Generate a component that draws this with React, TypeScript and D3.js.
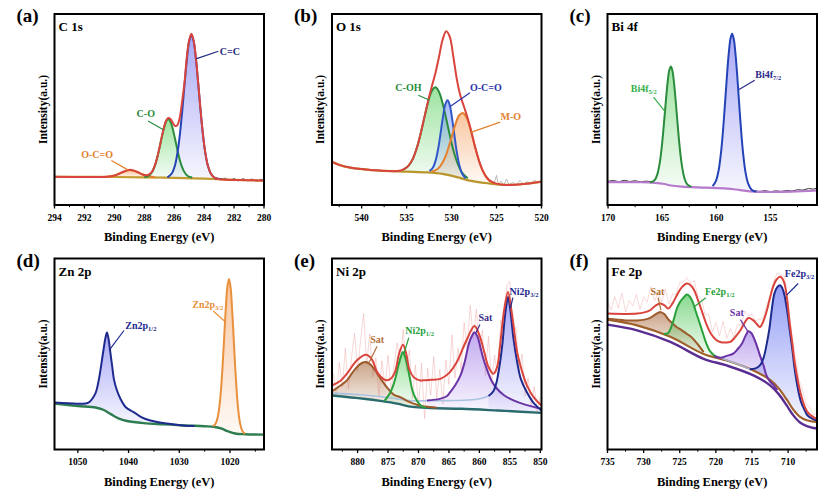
import * as d3 from 'd3'

type Pt = [number, number]

// ---------- (a) C 1s ----------
const aTicks = [294, 292, 290, 288, 286, 284, 282, 280]
const aBackground: Pt[] = [[294, 14.8], [291, 14.7], [288, 14.5], [286, 14.2], [284, 13.8], [282, 13.2], [280, 12.7]]
const aCC: Pt[] = [[286.45, 14.5], [286.15, 16.6], [285.95, 20.7], [285.75, 28.9], [285.6, 38.4], [285.45, 50.5], [285.3, 64], [285.15, 76.6], [285.0, 85.7], [284.85, 89], [284.7, 85.7], [284.55, 76.6], [284.4, 64], [284.25, 50.5], [284.1, 38.4], [283.95, 28.7], [283.75, 20.5], [283.55, 16.4], [283.25, 14], [282.8, 13.6]]
const aCO: Pt[] = [[288.0, 14.5], [287.7, 15.3], [287.5, 17], [287.3, 20.4], [287.15, 24.3], [287.0, 29.3], [286.85, 34.8], [286.7, 39.9], [286.55, 43.6], [286.4, 45], [286.25, 43.6], [286.1, 39.9], [285.95, 34.8], [285.8, 29.3], [285.65, 24.3], [285.5, 20.4], [285.3, 17], [285.1, 15.2], [284.8, 14.4]]
const aOCO: Pt[] = [[290.6, 14.7], [290.1, 15.3], [289.6, 16.7], [289.2, 17.9], [288.95, 18.3], [288.7, 17.9], [288.3, 16.7], [287.8, 15.3], [287.3, 14.5]]
const aEnvelope: Pt[] = [[294, 14.8], [291, 14.7], [290.3, 14.9], [289.8, 15.9], [289.4, 17.4], [288.95, 18.4], [288.5, 17.4], [288.1, 15.8], [287.8, 15.6], [287.5, 17.2], [287.3, 20.6], [287.15, 24.5], [287.0, 29.5], [286.85, 35], [286.7, 40.2], [286.55, 44], [286.4, 45.6], [286.25, 45], [286.1, 43.1], [285.95, 41.4], [285.8, 41.6], [285.65, 45], [285.5, 52.5], [285.3, 65], [285.15, 78], [285.0, 86.3], [284.85, 89.6], [284.7, 86], [284.55, 76.8], [284.4, 64.2], [284.25, 50.6], [284.1, 38.4], [283.95, 28.7], [283.75, 20.5], [283.55, 16.4], [283.25, 14], [282.8, 13.4], [281, 13], [280, 12.7]]
const aRaw: Pt[] = [[283.2, 14.3], [282.9, 13.2], [282.6, 14.1], [282.3, 12.8], [282, 13.9], [281.7, 12.6], [281.4, 13.8], [281.1, 12.9], [280.8, 13.6], [280.5, 12.4], [280.2, 13.5], [280, 12.9]]

// ---------- (b) O 1s ----------
const bTicks = [540, 535, 530, 525, 520]
const bBackground: Pt[] = [[543.3, 22.6], [542.5, 21], [541.3, 19.6], [540, 18.8], [538, 18], [535, 17.5], [532.7, 17.1], [531, 16.3], [529.4, 14.6], [528, 12.8], [526, 11.4], [524, 10.5], [522, 11], [520, 12.2]]
const bCOH: Pt[] = [[535.4, 18.5], [534.8, 20.5], [534.3, 24.3], [533.8, 30.9], [533.4, 38.2], [533.0, 46.4], [532.6, 54.1], [532.2, 59.7], [531.8, 61.6], [531.4, 59.2], [531.0, 53.3], [530.6, 45.2], [530.2, 36.5], [529.8, 28.7], [529.3, 21.4], [528.8, 16.7], [528.2, 14]]
const bOCO: Pt[] = [[532.45, 17.8], [532.05, 19.8], [531.75, 23.7], [531.45, 30.6], [531.2, 38.4], [530.95, 46.4], [530.7, 52.6], [530.45, 54.8], [530.2, 52.2], [529.95, 45.5], [529.7, 37], [529.45, 28.6], [529.15, 21.1], [528.85, 16.6], [528.45, 13.9]]
const bMO: Pt[] = [[532.25, 17.6], [531.75, 18.3], [531.25, 20.4], [530.75, 24.6], [530.35, 30], [529.95, 36.3], [529.55, 42.6], [529.15, 47], [528.75, 48.2], [528.35, 45.9], [527.95, 40.5], [527.55, 33.3], [527.15, 26.3], [526.75, 20.3], [526.25, 15.4], [525.75, 12.6], [525.25, 11.4]]
const bEnvelope: Pt[] = [[543.3, 22.6], [542.5, 21], [541.3, 19.6], [540, 18.8], [538, 18], [536, 17.8], [535.4, 18.5], [534.8, 20.5], [534.3, 24.3], [533.8, 30.9], [533.4, 38.2], [533, 46.4], [532.6, 54.7], [532.2, 62], [531.8, 69], [531.4, 77.5], [531, 86.5], [530.6, 91], [530.2, 88], [529.8, 77.5], [529.4, 65.4], [529, 56.9], [528.6, 51.2], [528.2, 45.3], [527.8, 38.4], [527.4, 30.6], [527, 23.9], [526.5, 17.6], [526, 13.9], [525.5, 12.1], [525, 11.2], [524, 10.5], [522, 11], [520, 12.2]]
const bRaw: Pt[] = [[526, 11.6], [525.6, 12.8], [525.3, 10.9], [525, 15.5], [524.8, 10.6], [524.5, 12.5], [524.2, 10.2], [523.9, 13.6], [523.6, 10.5], [523.2, 11.8], [522.8, 10.3], [522.4, 12.9], [522, 10.8], [521.6, 12.2], [521.2, 11.3], [520.8, 13.1], [520.4, 11.6], [520, 12.6]]

// ---------- (c) Bi 4f ----------
const cTicks = [170, 165, 160, 155]
const cBackground: Pt[] = [[170.1, 12], [167, 11.9], [165.7, 11.6], [164.8, 11], [164.2, 10.2], [163.2, 9.6], [161, 9.1], [159, 8.6], [157.8, 7.8], [156.5, 7], [155, 6.8], [153, 7], [150.7, 7.6]]
const cF52: Pt[] = [[166.1, 11.7], [165.7, 13], [165.45, 16], [165.2, 23], [165.0, 32.5], [164.8, 45.1], [164.65, 55.2], [164.5, 64.1], [164.35, 70.4], [164.2, 72.5], [164.05, 70.2], [163.9, 63.6], [163.75, 54.4], [163.6, 44.1], [163.4, 31.3], [163.2, 21.5], [162.95, 14.2], [162.7, 10.9], [162.3, 9.45]]
const cF72: Pt[] = [[160.34, 9.9], [160.04, 12.5], [159.79, 18], [159.54, 28.9], [159.34, 42], [159.14, 57.8], [158.99, 69.8], [158.84, 80], [158.69, 87.1], [158.54, 89.6], [158.39, 87], [158.24, 79.8], [158.09, 69.5], [157.94, 57.3], [157.74, 41.2], [157.54, 27.9], [157.29, 16.7], [157.04, 10.9], [156.74, 8], [156.3, 6.9]]
const cRawLeft: Pt[] = [[170.05, 12.4], [169.5, 12.8], [169, 12.2], [168.5, 12.9], [168, 12.3], [167.5, 12.7], [167, 12.1], [166.5, 12.5], [166, 12.2]]
const cRawRight: Pt[] = [[156.5, 7.4], [156, 7.1], [155.5, 7.5], [155, 7], [154.5, 7.4], [154, 7.1], [153.5, 7.6], [153, 7.3], [152.5, 8], [152, 7.8], [151.5, 8.6], [151, 8.3], [150.7, 8.9]]

// ---------- (d) Zn 2p ----------
const dTicks = [1050, 1040, 1030, 1020]
const dBackground: Pt[] = [[1054.6, 24], [1050, 22.8], [1046.5, 22], [1045, 20.8], [1043.5, 18.5], [1042, 16.3], [1040.3, 14.9], [1037, 13.8], [1033, 13.2], [1029, 12.6], [1025, 12.2], [1023, 11.8], [1021.5, 10.8], [1020.5, 9.6], [1019, 8.4], [1017, 8], [1013.3, 7.8]]
const dP12: Pt[] = [[1054.6, 24.6], [1050, 24], [1048, 24.4], [1046.6, 29], [1045.9, 36], [1045.4, 44], [1044.9, 53], [1044.55, 58.5], [1044.26, 61.2], [1043.95, 58], [1043.6, 51], [1043.2, 43], [1042.9, 37], [1042.3, 31], [1041.6, 26.6], [1040.5, 22], [1039, 19.6], [1037.5, 17], [1035.7, 15.2], [1032.4, 13.6], [1029.8, 12.7], [1027, 12.3]]
const dP32: Pt[] = [[1023.4, 12.2], [1022.9, 13.3], [1022.4, 17.2], [1022.0, 24.8], [1021.7, 34], [1021.4, 46.6], [1021.1, 61.3], [1020.8, 75.4], [1020.5, 85.6], [1020.2, 89.3], [1019.9, 85.1], [1019.6, 74.2], [1019.3, 59.4], [1019.0, 44.1], [1018.7, 31.1], [1018.4, 21.3], [1018.0, 13.5], [1017.5, 9.4], [1017.0, 8.2]]

// ---------- (e) Ni 2p ----------
const eTicks = [880, 875, 870, 865, 860, 855, 850]
const eBackground: Pt[] = [[884.2, 28.3], [879, 26.6], [876, 25.3], [873.5, 24], [871, 22.3], [868, 21.7], [863, 21.3], [857, 20.4], [849.8, 19.2]]
const eTail: Pt[] = [[884.2, 29.5], [879, 28.5], [875, 27.2], [871, 25.5], [868.6, 25.5], [865, 25.6], [862, 25.9], [859.9, 26.6], [858.5, 28]]
const eSatHigh: Pt[] = [[884.2, 30.5], [882.8, 33.5], [881.75, 36.2], [880.9, 40], [880.1, 43.2], [879.3, 45.3], [878.6, 45.8], [877.9, 44.5], [877.1, 41.4], [876.2, 37], [875.2, 32.7], [874, 28.6], [873, 27.4], [871.8, 25.3], [870.8, 24], [869.5, 22.8], [868.1, 22.2], [867, 21.8]]
const eP12: Pt[] = [[875.6, 25.4], [875.2, 27], [874.6, 30], [874.1, 34], [873.7, 38.5], [873.3, 44], [872.9, 48.5], [872.55, 51], [872.2, 48.5], [871.8, 43.5], [871.4, 37], [871.0, 31], [870.5, 27], [869.9, 24], [869.4, 22.5], [868.8, 22]]
const eSatLow: Pt[] = [[868.6, 25.7], [866.5, 26.5], [865.3, 28], [864.8, 30], [864, 33.5], [863.1, 38.8], [862.4, 46], [861.8, 54.5], [861.3, 59], [860.8, 61.2], [860.3, 59], [859.9, 54.5], [859.4, 48], [858.8, 42.3], [858, 36], [857.1, 31.8], [856, 28.5], [854.4, 25.7], [852.5, 23.5], [849.8, 21.3]]
const eP32: Pt[] = [[858.5, 28], [857.7, 30.5], [857.2, 35], [856.6, 45.8], [856.2, 56], [855.9, 66.8], [855.6, 75], [855.3, 79.9], [855, 75], [854.7, 66.8], [854.4, 58], [853.8, 45.8], [853.2, 37], [852.2, 30], [851, 24], [849.8, 20.4]]
const eEnvelope: Pt[] = [[884.2, 33.6], [882.8, 36], [881.75, 39.7], [880.1, 46.7], [878.6, 49.6], [877.6, 47], [876.8, 40.5], [875.8, 37], [875.2, 36.2], [874.4, 37.5], [873.8, 41], [873.2, 50], [872.55, 54.9], [872, 50], [871.5, 42], [870.8, 37.9], [869.8, 36.2], [869.2, 36.2], [868, 36.5], [866.4, 37], [865, 40], [863.7, 45.8], [862.7, 53], [862, 58], [860.8, 64.7], [859.9, 59], [859.2, 51], [858.5, 43.2], [857.7, 39.7], [857.1, 43], [856.6, 54.5], [855.9, 73.8], [855.3, 82.5], [854.7, 72], [854.2, 60], [853.8, 51], [853, 41], [852.2, 33.6], [851, 27], [849.8, 23.1]]
const eRaw: Pt[] = [[884, 40], [883.5, 28], [883, 45.5], [882.5, 33], [882, 53], [881.5, 31.8], [881, 48], [880.5, 61], [880, 41], [879.5, 57.3], [879, 71.2], [878.5, 44.6], [878, 60.5], [877.5, 38], [877, 48], [876.5, 28], [876, 46.5], [875.5, 32.5], [875, 49.3], [874.5, 30.3], [874, 44.5], [873.5, 56], [873, 45.5], [872.5, 62.8], [872, 41], [871.5, 52], [871, 26.5], [870.5, 44.3], [870, 21.5], [869.5, 45.2], [869, 16.2], [868.5, 42.4], [868, 28.5], [867.5, 48.6], [867, 26.8], [866.5, 42], [866, 23.8], [865.5, 47], [865, 34], [864.5, 60], [864, 37.5], [863.5, 53], [863, 41.5], [862.5, 66.5], [862, 53], [861.5, 75.5], [861, 58], [860.5, 73.5], [860, 52], [859.5, 62.5], [859, 38.5], [858.5, 59.2], [858, 34.5], [857.5, 49.5], [857, 38], [856.5, 68], [856, 63], [855.5, 86], [855, 88], [854.5, 59], [854, 64], [853.5, 41.5], [853, 50], [852.5, 28], [852, 37.5], [851.5, 23], [851, 33], [850.5, 20], [850, 27.5]]

// ---------- (f) Fe 2p ----------
const fTicks = [735, 730, 725, 720, 715, 710]
const fBackgroundLow: Pt[] = [[735, 65.4], [730.9, 62.4], [726.3, 56.3], [721.7, 47.5], [718.5, 44], [714.8, 38.8], [712.5, 33.6], [711.3, 29], [710.2, 23.1], [709.3, 18], [708.4, 14.3], [707.4, 12.3], [706, 11]]
const fBackgroundHigh: Pt[] = [[735, 68], [730.9, 65], [726.3, 59], [721.7, 50], [718.5, 46.6], [714.8, 41.4], [712.5, 36.4], [711.3, 32], [710.2, 26.2], [709.3, 21], [708.4, 17.2], [707.4, 15.3], [706, 14.4]]
const fTail: Pt[] = [[720.7, 50.2], [719, 47.5], [717.1, 44.9], [715.3, 42]]
const fSatHigh: Pt[] = [[735, 68.4], [732.5, 67.6], [730.9, 67.6], [729.9, 68], [729.1, 68.9], [728.4, 70.6], [727.7, 72], [727.1, 70.8], [726.6, 68.2], [726, 66], [725.4, 64], [724.7, 62.4], [724, 60.5], [723.4, 58.9], [722.6, 55.5], [721.7, 51]]
const fP12: Pt[] = [[727.2, 60.5], [726.6, 61], [726, 66], [725.4, 73.8], [725, 77], [724.6, 79], [724, 81.1], [723.6, 80], [723.2, 77.2], [722.8, 72.5], [722.3, 66.8], [721.8, 61], [721.4, 56.3], [720.9, 52], [720.5, 50.2], [720, 48.5]]
const fSatLow: Pt[] = [[720.2, 48.8], [719.4, 48], [718.5, 49], [717.6, 50.2], [717, 52.5], [716.4, 55.4], [715.9, 59.5], [715.5, 61.9], [715.1, 61], [714.8, 58.9], [714.3, 54], [713.9, 49.3], [713.4, 44], [713, 38.8], [712.5, 35.5], [712, 33.6], [711.5, 31]]
const fP32: Pt[] = [[715.3, 42], [714.5, 42.5], [713.9, 44], [713.4, 48], [713, 54.5], [712.6, 63], [712.3, 72], [711.9, 81.6], [711.5, 85], [711.1, 86], [710.8, 84.5], [710.5, 80.8], [710.1, 72], [709.8, 63.3], [709.4, 52], [709.1, 42.3], [708.6, 31], [708.2, 24.8], [707.7, 20.5], [707.3, 17.8], [706.6, 16], [706, 15.2]]
const fEnvelope: Pt[] = [[735, 71.2], [732.5, 71], [730.9, 71.2], [729.9, 71.8], [729.1, 72.9], [728.3, 75.5], [727.7, 76.4], [727.1, 75.5], [726.6, 73.8], [726, 76.5], [725.4, 80.8], [724.7, 85], [724, 86.9], [723.5, 86], [723, 83.4], [722.5, 78.5], [721.9, 72], [721.3, 65.5], [720.7, 60.7], [720, 57.5], [719.4, 56.3], [718.7, 56], [718, 56.3], [717.3, 59], [716.6, 62.4], [716, 66.5], [715.5, 68.9], [714.8, 67.6], [714.4, 66], [713.9, 64.1], [713.5, 66.5], [713, 72], [712.5, 79.5], [712, 86], [711.6, 89], [711.1, 90.4], [710.8, 89.5], [710.5, 86.9], [710.1, 77.5], [709.8, 66.8], [709.4, 55], [709.1, 45.8], [708.6, 35], [708.2, 28.3], [707.7, 22.5], [707.3, 19.6], [706.6, 17.2], [706, 16.1]]
const fRaw: Pt[] = [[735, 77.2], [734.5, 73.1], [734, 80.1], [733.5, 74], [733, 82], [732.5, 72], [732, 78], [731.5, 75.1], [731, 81.2], [730.5, 73.4], [730, 79.8], [729.5, 77.3], [729, 85.2], [728.5, 77.8], [728, 82], [727.5, 77.2], [727, 84.2], [726.5, 76], [726, 81.5], [725.5, 81.2], [725, 87.5], [724.5, 87.8], [724, 89.9], [723.5, 87], [723, 88.4], [722.5, 80.5], [722, 79], [721.5, 70.5], [721, 71], [720.5, 61.5], [720, 66.5], [719.5, 59.4], [719, 67.1], [718.5, 58.1], [718, 63.3], [717.5, 59], [717, 65.5], [716.5, 65], [716, 72.5], [715.5, 69.9], [715, 71], [714.5, 67.4], [714, 68.3], [713.5, 68.5], [713, 75], [712.5, 80.5], [712, 88], [711.5, 92.5], [711, 91.2], [710.5, 90.9], [710, 76], [709.5, 61], [709, 49], [708.5, 36.5], [708, 31], [707.5, 23.5], [707, 22.5], [706.5, 18], [706, 19.1]]

// ---------- styling ----------
const FONT = "'Times New Roman', 'Liberation Serif', 'DejaVu Serif', serif"
const COLS = [54.5, 332, 607.5]
const ROWS = [14, 258.5]
const W = 209.5
const H = 191

const RED = '#d9443c'
const NAVY = '#1e2a8e'
const BLUE = '#2443b6'
const GREEN = '#2a8c3c'
const LIGHTGREEN = '#36b04a'
const ORANGE = '#e3812e'
const GOLD = '#c49b30'
const BROWN = '#9c5b2c'
const PURPLE = '#6a33a6'

interface Comp { pts: Pt[]; stroke: string; fill?: string; width?: number; opacity?: number }
interface Note { text: string; sub?: string; color: string; at: Pt; anchor: 'start' | 'middle' | 'end'; from: Pt; to: Pt }
interface Spec {
  key: string; letter: string; title: string; col: number; row: number
  domain: [number, number]; ticks: number[]; minorStep: number
  base: Pt[]; backs: Comp[]; raws: Comp[]; comps: Comp[]; envelope?: Comp; notes: Note[]
}

const panels: Spec[] = [
  {
    key: 'a', letter: '(a)', title: 'C 1s', col: 0, row: 0, domain: [294, 280], ticks: aTicks, minorStep: 1,
    base: aBackground,
    backs: [{ pts: aBackground, stroke: GOLD, width: 2.2 }],
    raws: [{ pts: aRaw, stroke: '#444', width: 0.9 }],
    comps: [
      { pts: aOCO, stroke: ORANGE, fill: '#f59a50' },
      { pts: aCO, stroke: GREEN, fill: '#5cd060' },
      { pts: aCC, stroke: BLUE, fill: '#6f6ff0' },
    ],
    envelope: { pts: aEnvelope, stroke: RED, width: 2 },
    notes: [
      { text: 'C=C', color: '#232a80', at: [282.95, 78.4], anchor: 'start', from: [283.05, 80.5], to: [284.55, 76.5] },
      { text: 'C-O', color: GREEN, at: [287.9, 46], anchor: 'middle', from: [287.75, 44], to: [286.75, 39.5] },
      { text: 'O-C=O', color: ORANGE, at: [291.15, 24.7], anchor: 'middle', from: [290.2, 23.3], to: [289.1, 18.4] },
    ],
  },
  {
    key: 'b', letter: '(b)', title: 'O 1s', col: 1, row: 0, domain: [543.3, 520], ticks: bTicks, minorStep: 2.5,
    base: bBackground,
    backs: [{ pts: bBackground, stroke: '#b8962c', width: 2.2 }],
    raws: [{ pts: bRaw, stroke: '#aaa', width: 0.8 }],
    comps: [
      { pts: bCOH, stroke: GREEN, fill: '#5cd060' },
      { pts: bOCO, stroke: '#3158c8', fill: '#7090f0' },
      { pts: bMO, stroke: ORANGE, fill: '#f5a060' },
    ],
    envelope: { pts: bEnvelope, stroke: RED, width: 2 },
    notes: [
      { text: 'C-OH', color: GREEN, at: [534.8, 59.7], anchor: 'middle', from: [533.7, 57.5], to: [532.5, 55] },
      { text: 'O-C=O', color: '#2a36a8', at: [527.95, 59.7], anchor: 'start', from: [527.95, 58.8], to: [530.2, 51.5] },
      { text: 'M-O', color: ORANGE, at: [524.55, 44.5], anchor: 'start', from: [524.6, 43.4], to: [527.85, 38] },
    ],
  },
  {
    key: 'c', letter: '(c)', title: 'Bi 4f', col: 2, row: 0, domain: [170.05, 150.7], ticks: cTicks, minorStep: 2.5,
    base: cBackground,
    backs: [{ pts: cBackground, stroke: '#b67bcc', width: 2.2 }],
    raws: [{ pts: cRawLeft, stroke: '#333', width: 1 }, { pts: cRawRight, stroke: '#333', width: 1 }],
    comps: [
      { pts: cF52, stroke: GREEN, fill: '#5cd060' },
      { pts: cF72, stroke: BLUE, fill: '#6f6ff0' },
    ],
    notes: [
      { text: 'Bi4f', sub: '5/2', color: LIGHTGREEN, at: [167.9, 59.3], anchor: 'start', from: [165.8, 56.5], to: [164.75, 49] },
      { text: 'Bi4f', sub: '7/2', color: '#2a2a8a', at: [156.4, 66.6], anchor: 'start', from: [156.45, 65.3], to: [157.9, 60.5] },
    ],
  },
  {
    key: 'd', letter: '(d)', title: 'Zn 2p', col: 0, row: 1, domain: [1054.6, 1013.3], ticks: dTicks, minorStep: 5,
    base: dBackground,
    backs: [{ pts: dBackground, stroke: '#2e7d50', width: 2.4 }],
    raws: [],
    comps: [
      { pts: dP12, stroke: NAVY, fill: '#6f6ff0' },
      { pts: dP32, stroke: '#e8903c', fill: '#f5a060' },
    ],
    notes: [
      { text: 'Zn2p', sub: '1/2', color: NAVY, at: [1040.64, 63.3], anchor: 'start', from: [1040.9, 62.3], to: [1043.8, 52] },
      { text: 'Zn2p', sub: '3/2', color: '#e8903c', at: [1027.45, 74.1], anchor: 'start', from: [1023.3, 72.5], to: [1021.0, 67] },
    ],
  },
  {
    key: 'e', letter: '(e)', title: 'Ni 2p', col: 1, row: 1, domain: [884.2, 849.8], ticks: eTicks, minorStep: 2.5,
    base: eBackground,
    backs: [{ pts: eTail, stroke: '#a9c2e0', width: 1.6 }, { pts: eBackground, stroke: '#2a6b6e', width: 2.4 }],
    raws: [{ pts: eRaw, stroke: '#f0a0a0', width: 0.8, opacity: 0.55 }],
    comps: [
      { pts: eSatHigh, stroke: BROWN, fill: '#a8683a' },
      { pts: eP12, stroke: '#2aa03a', fill: '#5cd060' },
      { pts: eSatLow, stroke: PURPLE, fill: '#9a72e6' },
      { pts: eP32, stroke: NAVY, fill: '#6f6ff0' },
    ],
    envelope: { pts: eEnvelope, stroke: RED, width: 2 },
    notes: [
      { text: 'Sat', color: '#b0703a', at: [876.77, 56], anchor: 'middle', from: [876.8, 54], to: [878.1, 45.5] },
      { text: 'Ni2p', sub: '1/2', color: '#2aa03a', at: [872.17, 60.7], anchor: 'start', from: [871.6, 58.5], to: [872.35, 50.5] },
      { text: 'Sat', color: '#3a2a8a', at: [859, 67.1], anchor: 'middle', from: [859.9, 65.5], to: [860.6, 61] },
      { text: 'Ni2p', sub: '3/2', color: NAVY, at: [855.04, 81.1], anchor: 'start', from: [854.5, 79.5], to: [854.9, 74] },
    ],
  },
  {
    key: 'f', letter: '(f)', title: 'Fe 2p', col: 2, row: 1, domain: [735, 706], ticks: fTicks, minorStep: 2.5,
    base: fBackgroundHigh,
    backs: [
      { pts: fBackgroundLow, stroke: '#5a2d92', width: 2.4 },
      { pts: fBackgroundHigh, stroke: '#a0602c', width: 2.2 },
      { pts: fTail, stroke: '#a9b4d0', width: 1.6 },
    ],
    raws: [{ pts: fRaw, stroke: '#f0a0a0', width: 0.8, opacity: 0.5 }],
    comps: [
      { pts: fSatHigh, stroke: BROWN, fill: '#a8683a' },
      { pts: fP12, stroke: '#2aa03a', fill: '#3cc048' },
      { pts: fSatLow, stroke: PURPLE, fill: '#9a72e6' },
      { pts: fP32, stroke: NAVY, fill: '#4f5ff0' },
    ],
    envelope: { pts: fEnvelope, stroke: RED, width: 2 },
    notes: [
      { text: 'Sat', color: '#b07030', at: [728.1, 81.1], anchor: 'middle', from: [728, 79.5], to: [727.6, 73] },
      { text: 'Fe2p', sub: '1/2', color: '#2aa03a', at: [721.5, 81.1], anchor: 'start', from: [721.4, 79.5], to: [722.9, 75] },
      { text: 'Sat', color: PURPLE, at: [717.1, 69.7], anchor: 'middle', from: [716.6, 68], to: [715.6, 62] },
      { text: 'Fe2p', sub: '3/2', color: NAVY, at: [710.45, 90.4], anchor: 'start', from: [708.6, 86.9], to: [710.2, 80.8] },
    ],
  },
]

function interp(pts: Pt[], x: number) {
  const s = [...pts].sort((a, b) => a[0] - b[0])
  if (x <= s[0][0]) return s[0][1]
  if (x >= s[s.length - 1][0]) return s[s.length - 1][1]
  for (let i = 1; i < s.length; i++) {
    if (x <= s[i][0]) {
      const t = (x - s[i - 1][0]) / (s[i][0] - s[i - 1][0])
      return s[i - 1][1] + t * (s[i][1] - s[i - 1][1])
    }
  }
  return s[s.length - 1][1]
}

function Panel({ p }: { p: Spec }) {
  const left = COLS[p.col]
  const top = ROWS[p.row]
  const bottom = top + H
  const x = d3.scaleLinear().domain(p.domain).range([left, left + W])
  const y = d3.scaleLinear().domain([0, 100]).range([bottom, top])
  const smooth = d3.curveCatmullRom.alpha(0.5)
  const line = d3.line<Pt>().x(d => x(d[0])).y(d => y(d[1])).curve(smooth)
  const rawLine = d3.line<Pt>().x(d => x(d[0])).y(d => y(d[1]))
  const area = d3.area<Pt>()
    .x(d => x(d[0]))
    .y1(d => y(d[1]))
    .y0(d => y(Math.min(d[1], interp(p.base, d[0]))))
    .curve(smooth)

  const lo = Math.min(...p.domain)
  const hi = Math.max(...p.domain)
  const minor = d3.range(Math.ceil(lo / p.minorStep) * p.minorStep, hi + 1e-6, p.minorStep)
    .filter(v => !p.ticks.some(t => Math.abs(t - v) < 1e-6))
  const clip = `clip-${p.key}`

  return (
    <g>
      <defs>
        <clipPath id={clip}>
          <rect x={left} y={top} width={W} height={H} />
        </clipPath>
        {p.comps.map((c, i) => (
          <linearGradient key={i} id={`g-${p.key}-${i}`} x1="0" y1="0" x2="0" y2="1">
            <stop offset="0%" stopColor={c.fill} stopOpacity={0.6} />
            <stop offset="100%" stopColor={c.fill} stopOpacity={0.06} />
          </linearGradient>
        ))}
      </defs>

      <g clipPath={`url(#${clip})`}>
        {p.raws.map((r, i) => (
          <path key={i} d={rawLine(r.pts) ?? ''} fill="none" stroke={r.stroke} strokeWidth={r.width} strokeOpacity={r.opacity ?? 1} />
        ))}
        {p.comps.map((c, i) => (
          <path key={i} d={area(c.pts) ?? ''} fill={`url(#g-${p.key}-${i})`} stroke="none" />
        ))}
        {p.backs.map((b, i) => (
          <path key={i} d={line(b.pts) ?? ''} fill="none" stroke={b.stroke} strokeWidth={b.width} />
        ))}
        {p.comps.map((c, i) => (
          <path key={i} d={line(c.pts) ?? ''} fill="none" stroke={c.stroke} strokeWidth={c.width ?? 2} strokeLinejoin="round" />
        ))}
        {p.envelope && (
          <path d={line(p.envelope.pts) ?? ''} fill="none" stroke={p.envelope.stroke} strokeWidth={p.envelope.width} strokeLinejoin="round" />
        )}
      </g>

      {p.notes.map((n, i) => (
        <g key={i}>
          <line x1={x(n.from[0])} y1={y(n.from[1])} x2={x(n.to[0])} y2={y(n.to[1])} stroke={n.color} strokeWidth={1.2} />
          <text x={x(n.at[0])} y={y(n.at[1])} textAnchor={n.anchor} fill={n.color} fontSize={10} fontWeight="bold">
            {n.text}
            {n.sub && <tspan dy={2.5} fontSize={6.5}>{n.sub}</tspan>}
          </text>
        </g>
      ))}

      <rect x={left} y={top} width={W} height={H} fill="none" stroke="#000" strokeWidth={2} />
      {p.ticks.map(t => (
        <g key={t}>
          <line x1={x(t)} x2={x(t)} y1={bottom} y2={bottom + 3.5} stroke="#000" strokeWidth={1.3} />
          <text x={x(t)} y={bottom + 15.5} textAnchor="middle" fontSize={9.5} fontWeight="bold">{t}</text>
        </g>
      ))}
      {minor.map(t => (
        <line key={`m${t}`} x1={x(t)} x2={x(t)} y1={bottom} y2={bottom + 2.2} stroke="#000" strokeWidth={1} />
      ))}

      <text x={left + W / 2} y={bottom + 36} textAnchor="middle" fontSize={12.5} fontWeight="bold">Binding Energy (eV)</text>
      <text transform={`translate(${left - 8},${top + H / 2}) rotate(-90)`} textAnchor="middle" fontSize={11.5} fontWeight="bold">Intensity(a.u.)</text>
      <text x={left + 4} y={top + 17} fontSize={13} fontWeight="bold">{p.title}</text>
      <text x={left - 38} y={top + 8} fontSize={19} fontWeight="bold">{p.letter}</text>
    </g>
  )
}

export default function App() {
  return (
    <svg width={830} height={495} style={{ position: 'absolute', left: 0, top: 0, background: '#fff', fontFamily: FONT }}>
      {panels.map(p => <Panel key={p.key} p={p} />)}
    </svg>
  )
}
